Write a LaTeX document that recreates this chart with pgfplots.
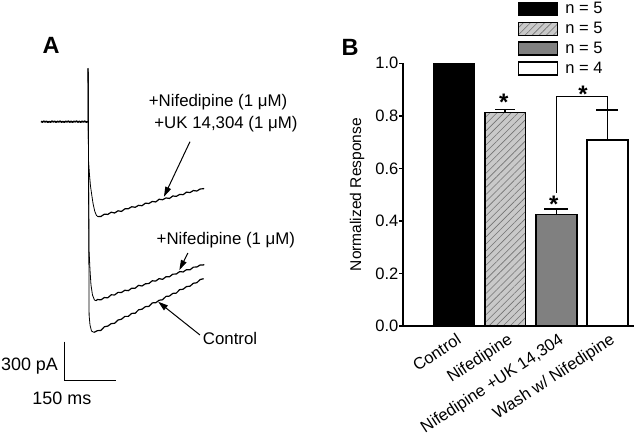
\documentclass[border=0pt]{standalone}
\usepackage{fontspec}
\setmainfont{Liberation Sans}
\usepackage{pgfplots}
\pgfplotsset{compat=1.18}
\usetikzlibrary{arrows.meta,patterns.meta}
\newcommand\fA{\fontsize{16.9}{20}\selectfont}
\newcommand\fScale{\fontsize{18}{21}\selectfont}
\newcommand\fTick{\fontsize{16.6}{20}\selectfont}
\newcommand\fLab{\fontsize{15.6}{19}\selectfont}
\newcommand\fTitle{\bfseries\fontsize{23.6}{28}\selectfont}
\newcommand\fStar{\bfseries\fontsize{24}{28}\selectfont}
\begin{document}
\begin{tikzpicture}
\useasboundingbox (0,0) rectangle (634bp,433bp);
% ---------------- Panel A ----------------
\begin{axis}[at={(0bp,33bp)}, anchor=south west, scale only axis,
  width=220bp, height=340bp,
  xmin=-119.7, xmax=522.7, ymin=-2142.9, ymax=475.1,
  axis lines=none, clip=false]
% baseline
\addplot[black, line width=1.6bp, line join=round] coordinates {(0,2) (4,-3) (8,4) (12,-2) (16,3) (20,-4) (24,1) (28,-3) (32,4) (36,-1) (40,3) (44,-4) (48,2) (52,-2) (56,4) (60,-3) (64,1) (68,-4) (72,3) (76,-2) (80,4) (84,-3) (88,2) (92,-4) (96,3) (100,-1) (104,4) (108,-3) (112,2) (116,-4) (120,3) (124,-2) (128,4) (132,-3) (137,0)};
% control
\addplot[black, line width=0.8bp, line join=round] coordinates {(137,0) (137.5,411) (140.5,-1490) (143.1,-1566) (147.5,-1612) (154.8,-1622)};
\addplot[black, line width=1.2bp, line join=round] coordinates {(155,-1622) (165,-1609) (175,-1607) (185,-1579) (195,-1574) (205,-1555) (215,-1552) (225,-1527) (235,-1521) (245,-1499) (255,-1499) (265,-1476) (275,-1475) (285,-1448) (295,-1444) (305,-1424) (315,-1422) (325,-1395) (335,-1394) (345,-1375) (355,-1371) (365,-1345) (375,-1343) (385,-1322) (395,-1320) (405,-1293) (415,-1290) (425,-1269) (435,-1267) (445,-1244) (455,-1240) (465,-1215) (475,-1209)};
% nifedipine
\addplot[black, line width=0.8bp, line join=round] coordinates {(137.5,411) (140.2,-988) (143.1,-1142) (146,-1258) (150.4,-1335) (156.2,-1373) (160.6,-1378)};
\addplot[black, line width=1.2bp, line join=round] coordinates {(160.6,-1378) (165,-1369) (175,-1372) (185,-1354) (195,-1356) (205,-1333) (215,-1334) (225,-1314) (235,-1315) (245,-1298) (255,-1301) (265,-1282) (275,-1282) (285,-1260) (295,-1265) (305,-1248) (315,-1246) (325,-1225) (335,-1227) (345,-1208) (355,-1214) (365,-1194) (375,-1194) (385,-1174) (395,-1173) (405,-1154) (415,-1157) (425,-1139) (435,-1141) (445,-1120) (455,-1119) (465,-1103) (475,-1103) (476,-1098)};
% nifedipine + UK 14,304
\addplot[black, line width=0.8bp, line join=round] coordinates {(137.5,411) (138.7,-295) (141.6,-410) (144.5,-495) (148,-560) (152,-630) (157,-690) (162,-722) (166.4,-731)};
\addplot[black, line width=1.2bp, line join=round] coordinates {(166.4,-731) (175,-730) (185,-712) (195,-714) (205,-697) (215,-703) (225,-686) (235,-691) (245,-671) (255,-670) (265,-655) (275,-659) (285,-644) (295,-647) (305,-627) (315,-630) (325,-614) (335,-618) (345,-597) (355,-601) (365,-587) (375,-591) (385,-572) (395,-575) (405,-560) (415,-562) (425,-542) (435,-546) (445,-530) (455,-534) (465,-518) (475,-516) (476,-513)};
% scale bar
\addplot[black, line width=1.4bp] coordinates {(68,-1694) (68,-1994) (218,-1994)};
\node[font=\fScale, anchor=east, inner sep=0pt] at (axis cs:50,-1879) {300 pA};
\node[font=\fScale, inner sep=0pt] at (axis cs:61,-2130) {150 ms};
% annotations
\node[font=\fA, inner sep=0pt] at (axis cs:517,154) {+Nifedipine (1 μM)};
\node[font=\fA, inner sep=0pt] at (axis cs:540,-18) {+UK 14,304 (1 μM)};
\node[font=\fA, inner sep=0pt] at (axis cs:540,-911) {+Nifedipine (1 μM)};
\node[font=\fA, inner sep=0pt] at (axis cs:552,-1673) {Control};
\draw[-{Triangle[length=10bp,width=6bp]}, line width=1bp] (axis cs:435,-154) -- (axis cs:359,-578);
\draw[-{Triangle[length=10bp,width=6bp]}, line width=1bp] (axis cs:429,-1011) -- (axis cs:404,-1142);
\draw[-{Triangle[length=10bp,width=6bp]}, line width=1bp] (axis cs:464,-1642) -- (axis cs:342,-1386);
\end{axis}
\node[font=\fTitle] at (51bp,388bp) {A};
% ---------------- Panel B ----------------
\begin{axis}[at={(403bp,107bp)}, anchor=south west, scale only axis,
  width=231bp, height=262.7bp,
  xmin=0, xmax=4.52, ymin=0, ymax=1,
  axis x line=bottom, axis y line=left,
  axis line style={-, line width=1.5bp},
  clip=false,
  xtick={1,2,3,4},
  xticklabels={Control,Nifedipine,{Nifedipine +UK 14,304},{Wash w/ Nifedipine}},
  xtick style={draw=none},
  ytick={0,0.2,0.4,0.6,0.8,1.0},
  ytick style={line width=1.5bp, black},
  tick align=outside, major tick length=4bp,
  /pgf/number format/assume math mode=true,
  yticklabel={\pgfmathprintnumber[fixed,fixed zerofill,precision=1]{\tick}},
  yticklabel style={font=\fTick, inner sep=0.5bp},
  xticklabel style={font=\fTick, rotate=33, anchor=north east, inner sep=0pt, yshift=-3bp, xshift=0bp},
  ylabel={Normalized Response},
  ylabel style={font=\fLab, at={(axis description cs:-0.199,0.5)}, anchor=center},
  mybar/.style={ybar, bar width=0.8, bar shift=0pt, draw=black, line width=1.5bp,
    legend image code/.code={\draw[##1, line width=1.5bp] (0bp,-6.5bp) rectangle (39bp,6.5bp);}},
  legend style={draw=none, fill=none, at={(0.4965,1.2395)}, anchor=north west,
    inner sep=0pt, row sep=3bp, column sep=5bp, font=\fTick, cells={anchor=west}},
]
\addplot[mybar, fill=black] coordinates {(1,1.0)};
\addlegendentry{n = 5}
\addplot[mybar, fill=black!21, postaction={pattern={Lines[angle=45,distance=5bp,line width=0.6bp]}, pattern color=black!55},
  error bars/.cd, y dir=plus, y explicit,
  error bar style={line width=1.5bp, black},
  error mark options={rotate=90, mark size=10bp, line width=1.5bp, black}]
  coordinates {(2,0.812) +- (0,0.013)};
\addlegendentry{n = 5}
\addplot[mybar, fill=black!50,
  error bars/.cd, y dir=plus, y explicit,
  error bar style={line width=1.5bp, black},
  error mark options={rotate=90, mark size=12bp, line width=1.5bp, black}]
  coordinates {(3,0.424) +- (0,0.021)};
\addlegendentry{n = 5}
\addplot[mybar, fill=white,
  error bars/.cd, y dir=plus, y explicit,
  error bar style={line width=1.5bp, black},
  error mark options={rotate=90, mark size=11bp, line width=1.5bp, black}]
  coordinates {(4,0.708) +- (0,0.114)};
\addlegendentry{n = 4}
\addplot[black, mark=none, line width=1.5bp, forget plot] coordinates {(3,0.507) (3,0.873) (4,0.873) (4,0.822)};
\node[font=\fStar, anchor=north, inner sep=0pt] at (axis cs:1.97,0.885) {*};
\node[font=\fStar, anchor=north, inner sep=0pt] at (axis cs:2.95,0.495) {*};
\node[font=\fStar, anchor=north, inner sep=0pt] at (axis cs:3.52,0.913) {*};
\end{axis}
\node[font=\fTitle] at (350bp,386bp) {B};
\end{tikzpicture}
\end{document}
